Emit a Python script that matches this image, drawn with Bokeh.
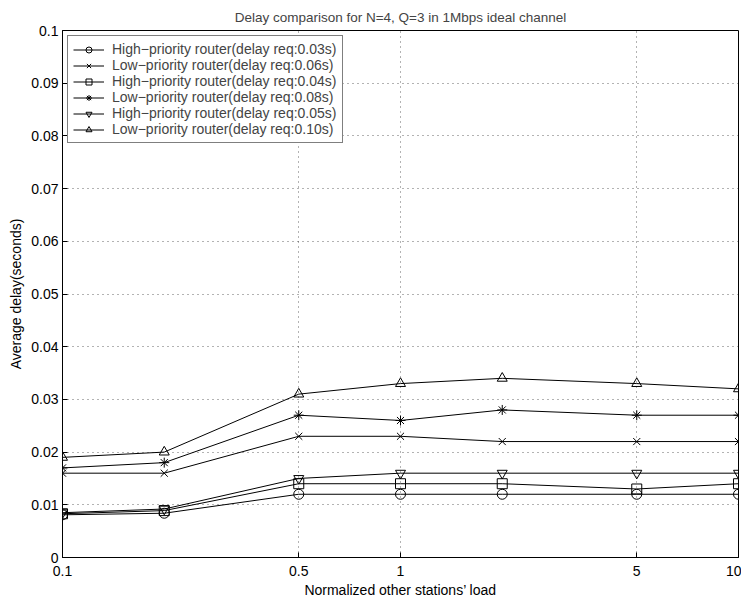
from bokeh.plotting import figure
from bokeh.models import FixedTicker, CustomJSTickFormatter, Legend, LegendItem, Range1d
from bokeh.embed import file_html
from bokeh.resources import INLINE

x_load = [0.1, 0.2, 0.5, 1, 2, 5, 10]
high_003 = [0.0081, 0.0084, 0.012, 0.012, 0.012, 0.012, 0.012]
low_006 = [0.016, 0.016, 0.023, 0.023, 0.022, 0.022, 0.022]
high_004 = [0.0083, 0.0089, 0.014, 0.014, 0.014, 0.013, 0.014]
low_008 = [0.017, 0.018, 0.027, 0.026, 0.028, 0.027, 0.027]
high_005 = [0.0085, 0.0092, 0.015, 0.016, 0.016, 0.016, 0.016]
low_010 = [0.019, 0.020, 0.031, 0.033, 0.034, 0.033, 0.032]

series = [
    ("High\u2212priority router(delay req:0.03s)", high_003, "circle"),
    ("Low\u2212priority router(delay req:0.06s)", low_006, "x"),
    ("High\u2212priority router(delay req:0.04s)", high_004, "square"),
    ("Low\u2212priority router(delay req:0.08s)", low_008, "asterisk"),
    ("High\u2212priority router(delay req:0.05s)", high_005, "inverted_triangle"),
    ("Low\u2212priority router(delay req:0.10s)", low_010, "triangle"),
]
x_ticks = [0.1, 0.5, 1, 5, 10]
y_ticks = [0, 0.01, 0.02, 0.03, 0.04, 0.05, 0.06, 0.07, 0.08, 0.09, 0.1]

FONT = "Liberation Sans"
FS = "14px"

p = figure(width=741, height=602, x_axis_type="log", output_backend="svg",
           toolbar_location=None, x_range=Range1d(0.1, 10), y_range=Range1d(0, 0.1),
           min_border_left=62, min_border_right=3, min_border_top=30, min_border_bottom=45,
           title="Delay comparison for N=4, Q=3 in 1Mbps ideal channel")
p.title.align = "center"
p.title.text_font = FONT
p.title.text_font_size = "13.5px"
p.title.text_font_style = "normal"
p.title.standoff = 11

p.outline_line_color = "black"
p.outline_line_width = 1
p.outline_line_alpha = 1
p.background_fill_color = "white"
p.border_fill_color = "white"

xa = p.xaxis[0]
xa.ticker = FixedTicker(ticks=x_ticks)
xa.formatter = CustomJSTickFormatter(code="return tick.toString();")
ya = p.yaxis[0]
ya.ticker = FixedTicker(ticks=y_ticks)
ya.formatter = CustomJSTickFormatter(code="return parseFloat(tick.toFixed(2)).toString();")
for ax in (xa, ya):
    ax.major_tick_in = 5
    ax.major_tick_out = 0
    ax.minor_tick_in = 0
    ax.minor_tick_out = 0
    ax.axis_line_color = "black"
    ax.major_tick_line_color = "black"
    ax.major_label_text_font = FONT
    ax.major_label_text_font_size = FS
    ax.major_label_text_color = "black"
    ax.axis_label_text_font = FONT
    ax.axis_label_text_font_size = FS
    ax.axis_label_text_font_style = "normal"
    ax.axis_label_text_color = "black"
xa.axis_label = "Normalized other stations\u2019 load"
ya.axis_label = "Average delay(seconds)"
xa.major_label_standoff = 8
xa.axis_label_standoff = 3
ya.major_label_standoff = 4
ya.axis_label_standoff = 4

p.xgrid.ticker = FixedTicker(ticks=x_ticks)
p.ygrid.ticker = FixedTicker(ticks=y_ticks)
for g in (p.xgrid[0], p.ygrid[0]):
    g.grid_line_color = "black"
    g.grid_line_alpha = 0.6
    g.grid_line_dash = "1 4"
    g.grid_line_width = 1

items = []
for label, vals, marker in series:
    r1 = p.line(x_load, vals, line_color="black", line_width=1)
    r2 = p.scatter(x_load, vals, marker=marker, size=10, line_color="black",
                   fill_alpha=0, line_width=1)
    items.append(LegendItem(label=label, renderers=[r1, r2]))

legend = Legend(items=items, location="top_left")
legend.label_text_font = FONT
legend.label_text_font_size = FS
legend.label_height = 15
legend.glyph_height = 15
legend.glyph_width = 31
legend.spacing = 0
legend.padding = 5
legend.margin = 5
legend.border_line_color = "black"
legend.border_line_width = 1
legend.background_fill_alpha = 1
legend.label_standoff = 8
p.add_layout(legend)

open("out.html", "w").write(file_html(p, INLINE))
